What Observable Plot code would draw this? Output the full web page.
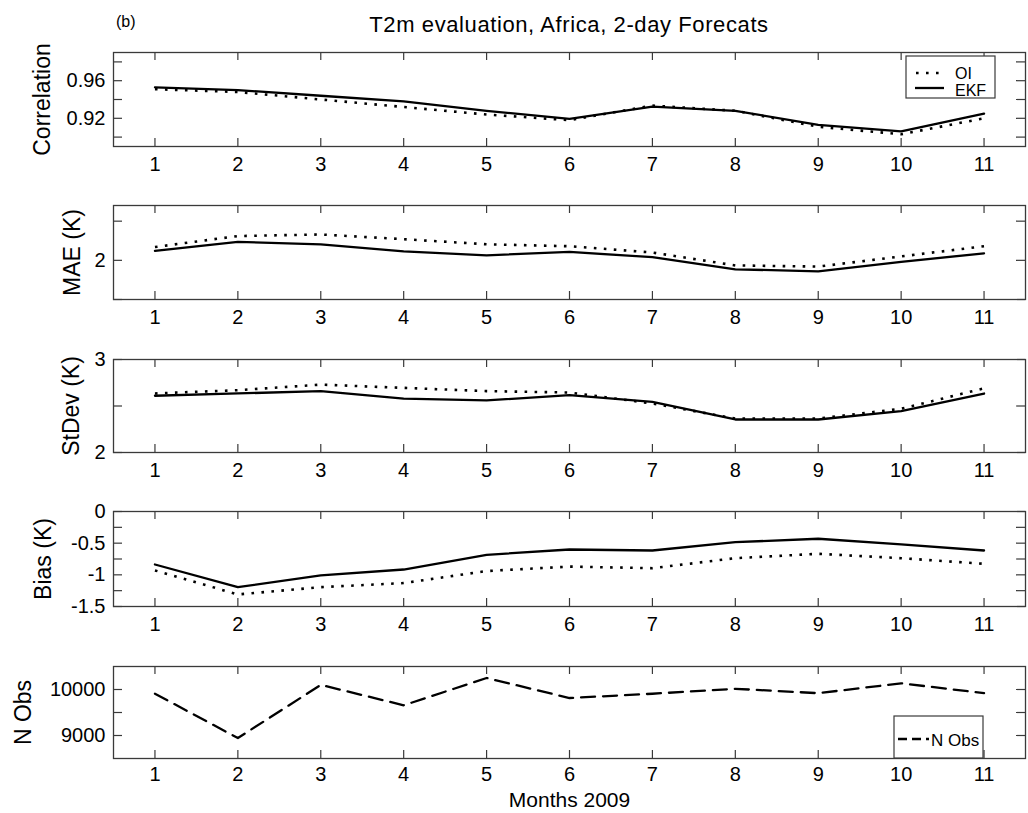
<!DOCTYPE html>
<html><head><meta charset="utf-8">
<script src="https://cdn.jsdelivr.net/npm/d3@7"></script>
<script src="https://cdn.jsdelivr.net/npm/@observablehq/plot@0.6"></script>
<style>
body{margin:0;background:#fff;}
#root{position:relative;width:1028px;height:813px;overflow:hidden;font-family:"Liberation Sans",Arial,sans-serif;background:#fff;}
.panel{position:absolute;left:0;}
#overlay{position:absolute;left:0;top:0;pointer-events:none;}
</style></head><body><div id="root"></div>
<script>
// ---------- data ----------
const months = [1, 2, 3, 4, 5, 6, 7, 8, 9, 10, 11];
const monthTicks = [1, 2, 3, 4, 5, 6, 7, 8, 9, 10, 11];

const corrOI  = [0.951, 0.948, 0.940, 0.932, 0.924, 0.918, 0.9335, 0.928, 0.911, 0.903, 0.920];
const corrEKF = [0.953, 0.950, 0.944, 0.938, 0.928, 0.9195, 0.9325, 0.928, 0.913, 0.906, 0.925];

const maeOI  = [2.17, 2.31, 2.33, 2.27, 2.205, 2.18, 2.10, 1.935, 1.92, 2.05, 2.18];
const maeEKF = [2.12, 2.235, 2.205, 2.115, 2.064, 2.107, 2.04, 1.885, 1.86, 1.98, 2.09];

const stdOI  = [2.635, 2.67, 2.73, 2.695, 2.66, 2.645, 2.527, 2.365, 2.365, 2.47, 2.69];
const stdEKF = [2.61, 2.635, 2.66, 2.58, 2.56, 2.616, 2.545, 2.355, 2.355, 2.444, 2.634];

const biasOI  = [-0.93, -1.31, -1.195, -1.13, -0.94, -0.87, -0.895, -0.737, -0.668, -0.737, -0.826];
const biasEKF = [-0.837, -1.195, -1.01, -0.916, -0.684, -0.60, -0.616, -0.485, -0.43, -0.52, -0.616];

const nObs = [9908, 8945, 10100, 9657, 10250, 9815, 9908, 10015, 9920, 10135, 9920];

const corrTicks = [0.90, 0.92, 0.94, 0.96, 0.98];
const corrLabels = [0.92, 0.96];
const maeTicks = [1.5, 2, 2.5];
const maeLabels = [2];
const stdTicks = [2, 2.5, 3];
const stdLabels = [2, 3];
const biasTicks = [-1.5, -1.25, -1, -0.75, -0.5, -0.25, 0];
const biasLabels = [-1.5, -1, -0.5, 0];
const nTicks = [9000, 9500, 10000];
const nLabels = [9000, 10000];

const titleText = "T2m evaluation, Africa, 2-day Forecats";
const panelTag = "(b)";
const xLabel = "Months 2009";

// ---------- layout ----------
const W = 1028, ML = 113, MR = 3;
const plotW = W - ML - MR;
const FRAME = "#3a3a3a";
const FONT = '"Liberation Sans", Arial, sans-serif';
const dotted = {stroke: "black", strokeWidth: 2.6, strokeDasharray: "2.6,7.4", strokeLinecap: "butt"};
const solid = {stroke: "black", strokeWidth: 2.3};
const dashed = {stroke: "black", strokeWidth: 2.3, strokeDasharray: "14,8"};

const panels = [
  {top: 40, mt: 12, h: 94, mb: 34, tp: 10, domain: [0.89, 0.99], ticks: corrTicks, labels: corrLabels,
   fmt: d => d.toFixed(2), ylabel: "Correlation", ldx: -71,
   series: [[corrOI, dotted], [corrEKF, solid]]},
  {top: 193, mt: 12, h: 94, mb: 34, tp: 10, domain: [1.5, 2.7], ticks: maeTicks, labels: maeLabels,
   fmt: d => String(d), ylabel: "MAE (K)", ldx: -41,
   series: [[maeOI, dotted], [maeEKF, solid]]},
  {top: 347, mt: 12, h: 93, mb: 34, tp: 10, domain: [2, 3], ticks: stdTicks, labels: stdLabels,
   fmt: d => String(d), ylabel: "StDev (K)", ldx: -42,
   series: [[stdOI, dotted], [stdEKF, solid]]},
  {top: 499, mt: 12, h: 95, mb: 34, tp: 10, domain: [-1.5, 0], ticks: biasTicks, labels: biasLabels,
   fmt: d => String(d), ylabel: "Bias (K)", ldx: -70,
   series: [[biasOI, dotted], [biasEKF, solid]]},
  {top: 654, mt: 12, h: 92, mb: 55, tp: 8, domain: [8500, 10500], ticks: nTicks, labels: nLabels,
   fmt: d => String(d), ylabel: "N Obs", ldx: -90, xlabel: xLabel,
   series: [[nObs, dashed]]}
];

const root = document.getElementById("root");

for (const p of panels) {
  const marks = [
    Plot.frame({stroke: FRAME, strokeWidth: 1.3}),
    // inward ticks on all four sides
    Plot.ruleY(p.ticks, {stroke: FRAME, strokeWidth: 1.2, insetRight: plotW - 9}),
    Plot.ruleY(p.ticks, {stroke: FRAME, strokeWidth: 1.2, insetLeft: plotW - 9}),
    Plot.ruleX(monthTicks, {stroke: FRAME, strokeWidth: 1.2, insetBottom: p.h - 8}),
    Plot.ruleX(monthTicks, {stroke: FRAME, strokeWidth: 1.2, insetTop: p.h - 8}),
    Plot.axisY(p.labels, {tickSize: 0, tickPadding: 8, tickFormat: p.fmt, fontSize: 20, label: null}),
    Plot.axisX(monthTicks, {tickSize: 0, tickPadding: p.tp, tickFormat: d => String(d), fontSize: 20, label: null}),
    Plot.text([p.ylabel], {frameAnchor: "left", rotate: -90, dx: p.ldx, textAnchor: "middle", lineAnchor: "middle", fontSize: 23, text: d => d}),
    ...p.series.map(([vals, style]) => Plot.lineY(vals, {x: months, y: d => d, ...style}))
  ];
  if (p.xlabel) {
    marks.push(Plot.text([p.xlabel], {frameAnchor: "bottom", dy: 42, textAnchor: "middle", lineAnchor: "middle", fontSize: 21, text: d => d}));
  }
  const chart = Plot.plot({
    width: W,
    height: p.mt + p.h + p.mb,
    marginLeft: ML, marginRight: MR, marginTop: p.mt, marginBottom: p.mb,
    style: {fontFamily: FONT, color: "black", background: "transparent", overflow: "visible"},
    x: {domain: [0.5, 11.5], axis: null},
    y: {domain: p.domain, axis: null},
    marks
  });
  const div = document.createElement("div");
  div.className = "panel";
  div.style.top = p.top + "px";
  div.appendChild(chart);
  root.appendChild(div);
}

// ---------- overlay: title, panel tag, legends ----------
const ov = d3.select(root).append("svg").attr("id", "overlay").attr("width", W).attr("height", 813)
  .style("font-family", FONT);

ov.append("text").attr("x", 569).attr("y", 32).attr("text-anchor", "middle").attr("font-size", 22)
  .attr("letter-spacing", 0.6).text(titleText);
ov.append("text").attr("x", 116).attr("y", 27).attr("font-size", 16).text(panelTag);

// legend 1 (OI / EKF)
const lg1 = ov.append("g");
lg1.append("rect").attr("x", 906).attr("y", 56).attr("width", 89).attr("height", 42)
  .attr("fill", "white").attr("stroke", FRAME).attr("stroke-width", 1.2);
lg1.append("line").attr("x1", 916).attr("x2", 941).attr("y1", 73).attr("y2", 73)
  .attr("stroke", "black").attr("stroke-width", dotted.strokeWidth).attr("stroke-dasharray", dotted.strokeDasharray);
lg1.append("line").attr("x1", 915).attr("x2", 944).attr("y1", 88).attr("y2", 88)
  .attr("stroke", "black").attr("stroke-width", solid.strokeWidth);
lg1.append("text").attr("x", 955).attr("y", 79).attr("font-size", 16).text("OI");
lg1.append("text").attr("x", 955).attr("y", 96).attr("font-size", 16).text("EKF");

// legend 5 (N Obs)
const lg5 = ov.append("g");
lg5.append("rect").attr("x", 894).attr("y", 716).attr("width", 89).attr("height", 42)
  .attr("fill", "white").attr("stroke", FRAME).attr("stroke-width", 1.2);
lg5.append("line").attr("x1", 898).attr("x2", 929).attr("y1", 739).attr("y2", 739)
  .attr("stroke", "black").attr("stroke-width", 2.3).attr("stroke-dasharray", "9,5");
lg5.append("text").attr("x", 931).attr("y", 746).attr("font-size", 17).text("N Obs");
</script>
</body></html>
